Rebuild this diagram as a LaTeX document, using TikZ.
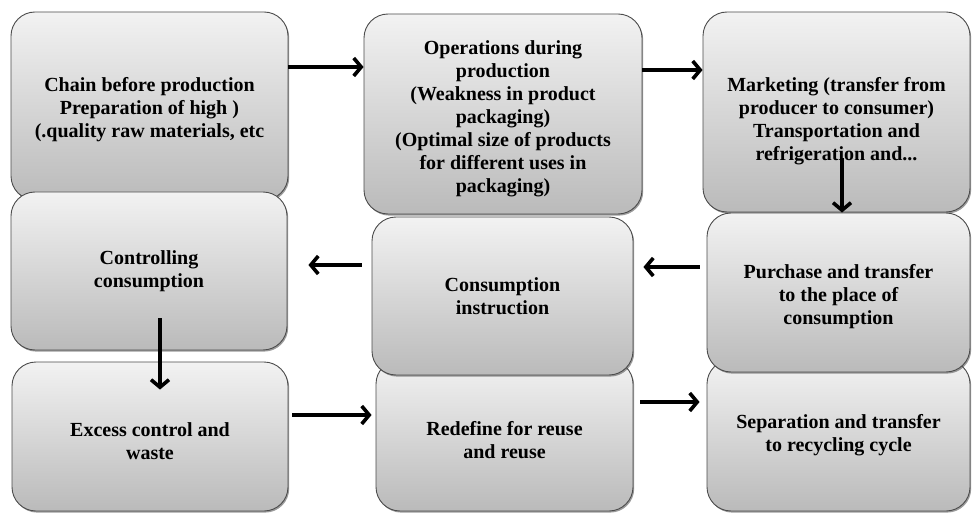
\documentclass[tikz,border=0pt]{standalone}
\usepackage{fontspec}
\setmainfont{Liberation Serif}
\usetikzlibrary{arrows.meta,shadows}

\tikzset{
  stagebox/.style={
    rectangle, rounded corners=24pt, draw=black!70, line width=0.9pt,
    top color=black!5, bottom color=black!27,
    drop shadow={shadow xshift=1.2pt, shadow yshift=-1.6pt, opacity=0.55, fill=black!70},
    align=center, inner sep=4pt,
    font=\bfseries\fontsize{20}{23}\selectfont
  },
  flow/.style={
    line width=3.6pt, draw=black,
    -{Straight Barb[length=7.5pt, width=18pt]}
  }
}

\begin{document}
\begin{tikzpicture}[x=1pt, y=-1pt]
  \useasboundingbox (0,0) rectangle (972,513);
  \fill[white] (0,0) rectangle (972,513);

  % left column
  \node[stagebox, minimum width=277pt, minimum height=188pt] (b1) at (149.5,106)
    {\rule{0pt}{22pt}Chain before production\\Preparation of high )\\(.quality raw materials, etc};
  \node[stagebox, minimum width=276pt, minimum height=158pt] (b4) at (149,271)
    {Controlling\\consumption};
  \node[stagebox, minimum width=276pt, minimum height=149pt] (b7) at (150,436.5)
    {\rule{0pt}{24pt}Excess control and\\waste};

  % middle column
  \node[stagebox, minimum width=278pt, minimum height=200pt] (b2) at (503,114)
    {\rule{0pt}{24pt}Operations during\\production\\(Weakness in product\\packaging)\\(Optimal size of products\\for different uses in\\packaging)};
  \node[stagebox, minimum width=257pt, minimum height=151pt] (b8) at (504.5,435.5)
    {\rule{0pt}{24pt}Redefine for reuse\\and reuse};
  \node[stagebox, minimum width=261pt, minimum height=158pt] (b5) at (502.5,296)
    {Consumption\\instruction};

  % right column
  \node[stagebox, minimum width=267pt, minimum height=200pt] (b3) at (836.5,112)
    {\rule{0pt}{32pt}Marketing (transfer from\\producer to consumer)\\Transportation and\\refrigeration and...};
  \node[stagebox, minimum width=263pt, minimum height=151pt] (b9) at (838.5,435.5)
    {Separation and transfer\\to recycling cycle};
  \node[stagebox, minimum width=263pt, minimum height=159pt] (b6) at (838.5,292.5)
    {\rule{0pt}{22pt}Purchase and transfer\\to the place of\\consumption};

  % connectors
  \draw[flow] ([yshift=39pt]b1.east) -- ([yshift=39pt]b1.east -| b2.west);
  \draw[flow] ([yshift=44pt]b2.east) -- ([yshift=44pt]b2.east -| b3.west);
  \draw[flow] ([xshift=5.5pt, yshift=54pt]b3.south) -- ([xshift=3.5pt]b6.north);
  \draw[flow, shorten <=7pt, shorten >=10pt] ([yshift=25.5pt]b6.west) -- ([yshift=25.5pt]b6.west -| b5.east);
  \draw[flow, shorten <=10pt, shorten >=21pt] ([yshift=31pt]b5.west) -- ([yshift=31pt]b5.west -| b4.east);
  \draw[flow] ([xshift=11pt, yshift=32pt]b4.south) -- ([xshift=10pt, yshift=-28pt]b7.north);
  \draw[flow, shorten <=4pt, shorten >=4pt] ([yshift=21.5pt]b7.east) -- ([yshift=21.5pt]b7.east -| b8.west);
  \draw[flow, shorten <=7pt, shorten >=7pt] ([yshift=33.5pt]b8.east) -- ([yshift=33.5pt]b8.east -| b9.west);
\end{tikzpicture}
\end{document}
